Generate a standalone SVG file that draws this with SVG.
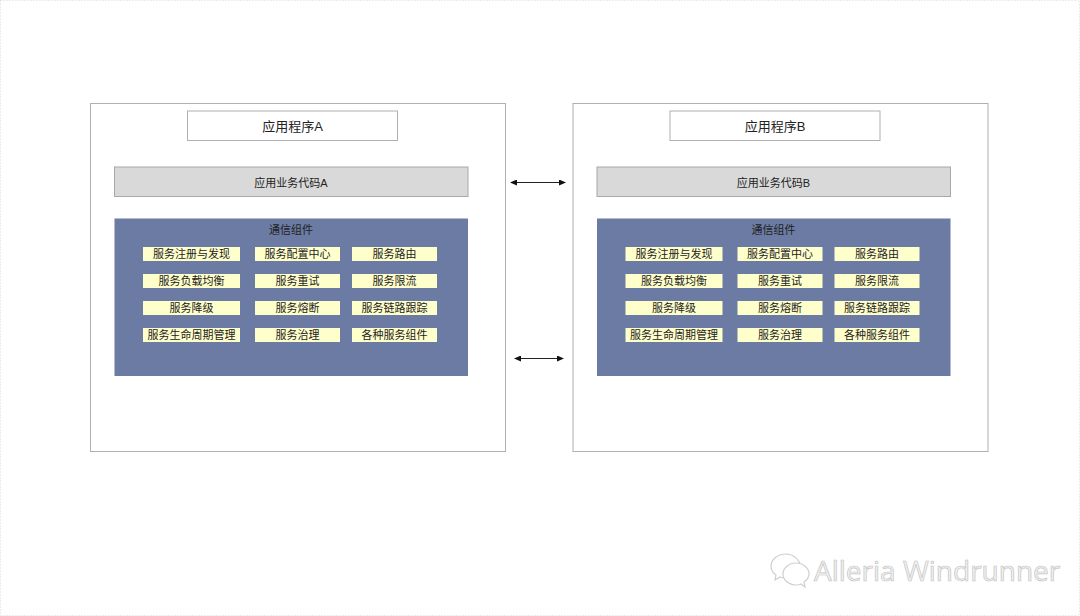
<svg xmlns="http://www.w3.org/2000/svg" width="1080" height="616" viewBox="0 0 1080 616">
<style>
text{font-family:"Liberation Sans","Noto Sans CJK SC",sans-serif;text-anchor:middle;fill:#222}
.o{fill:#fff;stroke:#b0b0b0;stroke-width:1}
.g{fill:#d9d9d9;stroke:#a8a8a8;stroke-width:1}
.b{fill:#6b7ba4}
.y{fill:#ffffcc}
.t{font-size:13px}
.s{font-size:11px}
.c{stroke:#222;stroke-width:1;fill:none;marker-start:url(#a);marker-end:url(#e)}
.w{font-size:28px;fill:#f2f2f2;stroke:#c4c4c4;stroke-width:.7;text-anchor:start;font-family:"Open Sans","Liberation Sans",sans-serif}
.i{fill:#fff;stroke:#cfcfcf;stroke-width:1.2}
</style>
<defs>
<marker id="e" markerWidth="7" markerHeight="6" refX="6" refY="3" orient="auto" markerUnits="userSpaceOnUse"><path d="M0 0L7 3L0 6z" fill="#111"/></marker>
<marker id="a" markerWidth="7" markerHeight="6" refX="1" refY="3" orient="auto" markerUnits="userSpaceOnUse"><path d="M7 0L0 3L7 6z" fill="#111"/></marker>
<g id="items">
<rect class="y" x="143" y="247" width="97" height="14"/><text class="s" x="191.500" y="258">服务注册与发现</text>
<rect class="y" x="255" y="247" width="85" height="14"/><text class="s" x="297.500" y="258">服务配置中心</text>
<rect class="y" x="352" y="247" width="85" height="14"/><text class="s" x="394.500" y="258">服务路由</text>
<rect class="y" x="143" y="274" width="97" height="14"/><text class="s" x="191.500" y="285">服务负载均衡</text>
<rect class="y" x="255" y="274" width="85" height="14"/><text class="s" x="297.500" y="285">服务重试</text>
<rect class="y" x="352" y="274" width="85" height="14"/><text class="s" x="394.500" y="285">服务限流</text>
<rect class="y" x="143" y="301" width="97" height="14"/><text class="s" x="191.500" y="312">服务降级</text>
<rect class="y" x="255" y="301" width="85" height="14"/><text class="s" x="297.500" y="312">服务熔断</text>
<rect class="y" x="352" y="301" width="85" height="14"/><text class="s" x="394.500" y="312">服务链路跟踪</text>
<rect class="y" x="143" y="328" width="97" height="14"/><text class="s" x="191.500" y="339">服务生命周期管理</text>
<rect class="y" x="255" y="328" width="85" height="14"/><text class="s" x="297.500" y="339">服务治理</text>
<rect class="y" x="352" y="328" width="85" height="14"/><text class="s" x="394.500" y="339">各种服务组件</text>
</g>
</defs>
<rect width="1080" height="616" fill="#fff"/>
<rect x="0.500" y="0.500" width="1079" height="615" fill="none" stroke="#d8d8d8" stroke-dasharray="1 2"/>
<g id="appA">
<rect class="o" x="90.500" y="103.500" width="415" height="348"/>
<rect class="o" x="187.500" y="111" width="210" height="29.500"/>
<text class="t" x="292.500" y="130.500">应用程序A</text>
<rect class="g" x="114.500" y="167" width="353.500" height="29.500"/>
<text class="s" x="291" y="186.500">应用业务代码A</text>
<rect class="b" x="114.500" y="218.500" width="353.500" height="157.500"/>
<text class="s" x="291" y="234">通信组件</text>
<use href="#items"/>
</g>
<g id="appB">
<rect class="o" x="573" y="103.500" width="415" height="348"/>
<rect class="o" x="670" y="111" width="210" height="29.500"/>
<text class="t" x="775" y="130.500">应用程序B</text>
<rect class="g" x="597" y="167" width="353.500" height="29.500"/>
<text class="s" x="773.500" y="186.500">应用业务代码B</text>
<rect class="b" x="597" y="218.500" width="353.500" height="157.500"/>
<text class="s" x="773.500" y="234">通信组件</text>
<use href="#items" x="482.500"/>
</g>
<g id="connectors">
<line class="c" x1="511" y1="182.500" x2="565" y2="182.500"/>
<line class="c" x1="515" y1="358.500" x2="563" y2="358.500"/>
</g>
<g id="watermark">
<path class="i" d="M786 554c-9 0-15 6-15 12 0 4 2 7 5 9l-1 5 5-3c2 1 4 1 6 1 6-10 10-12 15-12-2-7-8-12-15-12z"/>
<path class="i" d="M796 563c-7 0-13 5-13 11s6 11 13 11c2 0 3 0 5-1l4 3-1-5c3-2 5-5 5-8 0-6-6-11-13-11z"/>
<text class="w" x="814" y="581">Alleria Windrunner</text>
</g>
</svg>
